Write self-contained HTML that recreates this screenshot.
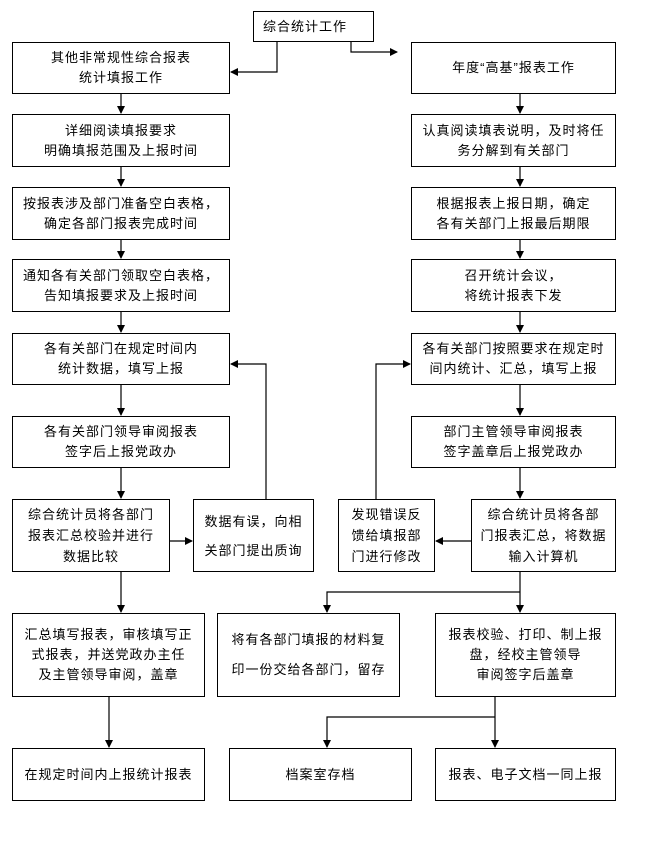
<!DOCTYPE html>
<html><head><meta charset="utf-8"><style>
html,body{margin:0;padding:0;background:#fff;}
body{width:648px;height:853px;position:relative;overflow:hidden;font-family:"Liberation Sans","Noto Sans CJK SC","WenQuanYi Zen Hei",sans-serif;font-size:13px;letter-spacing:1px;color:#000;}
.b{position:absolute;border:1px solid #000;box-sizing:border-box;display:flex;align-items:center;justify-content:center;text-align:center;line-height:20px;background:#fff;}
svg{position:absolute;left:0;top:0;}
</style></head><body>
<svg width="648" height="853" viewBox="0 0 648 853">
<defs><marker id="a" markerWidth="8" markerHeight="8" refX="7" refY="4" orient="auto" markerUnits="userSpaceOnUse"><path d="M0,0 L8,4 L0,8 z" fill="#000"/></marker></defs>
<g stroke="#000" stroke-width="1.2" fill="none">
<polyline points="277,41 277,72 231,72" marker-end="url(#a)"/>
<polyline points="351,41 351,52 397,52" marker-end="url(#a)"/>
<line x1="121" y1="93" x2="121" y2="113" marker-end="url(#a)"/>
<line x1="121" y1="166" x2="121" y2="186" marker-end="url(#a)"/>
<line x1="121" y1="239" x2="121" y2="258" marker-end="url(#a)"/>
<line x1="121" y1="311" x2="121" y2="332" marker-end="url(#a)"/>
<line x1="121" y1="384" x2="121" y2="415" marker-end="url(#a)"/>
<line x1="121" y1="467" x2="121" y2="498" marker-end="url(#a)"/>
<line x1="520" y1="93" x2="520" y2="113" marker-end="url(#a)"/>
<line x1="520" y1="166" x2="520" y2="186" marker-end="url(#a)"/>
<line x1="520" y1="239" x2="520" y2="258" marker-end="url(#a)"/>
<line x1="520" y1="311" x2="520" y2="332" marker-end="url(#a)"/>
<line x1="520" y1="384" x2="520" y2="415" marker-end="url(#a)"/>
<line x1="520" y1="467" x2="520" y2="498" marker-end="url(#a)"/>
<line x1="170" y1="541" x2="192" y2="541" marker-end="url(#a)"/>
<polyline points="266,499 266,364 231,364" marker-end="url(#a)"/>
<line x1="471" y1="541" x2="436" y2="541" marker-end="url(#a)"/>
<polyline points="376,499 376,364 410,364" marker-end="url(#a)"/>
<line x1="121" y1="571" x2="121" y2="612" marker-end="url(#a)"/>
<line x1="520" y1="571" x2="520" y2="612" marker-end="url(#a)"/>
<polyline points="520,592 327,592 327,612" marker-end="url(#a)"/>
<line x1="109" y1="696" x2="109" y2="747" marker-end="url(#a)"/>
<line x1="495" y1="696" x2="495" y2="747" marker-end="url(#a)"/>
<polyline points="495,717 327,717 327,747" marker-end="url(#a)"/>
</g></svg>
<div class="b" style="left:253px;top:11px;width:121px;height:31px;justify-content:flex-start;padding-left:9px;">综合统计工作</div>
<div class="b" style="left:12px;top:42px;width:218px;height:52px;">其他非常规性综合报表<br>统计填报工作</div>
<div class="b" style="left:411px;top:42px;width:205px;height:52px;">年度“高基”报表工作</div>
<div class="b" style="left:12px;top:114px;width:218px;height:53px;">详细阅读填报要求<br>明确填报范围及上报时间</div>
<div class="b" style="left:411px;top:114px;width:205px;height:53px;">认真阅读填表说明，及时将任<br>务分解到有关部门</div>
<div class="b" style="left:12px;top:187px;width:218px;height:53px;">按报表涉及部门准备空白表格，<br>确定各部门报表完成时间</div>
<div class="b" style="left:411px;top:187px;width:205px;height:53px;">根据报表上报日期，确定<br>各有关部门上报最后期限</div>
<div class="b" style="left:12px;top:259px;width:218px;height:53px;">通知各有关部门领取空白表格，<br>告知填报要求及上报时间</div>
<div class="b" style="left:411px;top:259px;width:205px;height:53px;">召开统计会议，<br>将统计报表下发</div>
<div class="b" style="left:12px;top:333px;width:218px;height:52px;">各有关部门在规定时间内<br>统计数据，填写上报</div>
<div class="b" style="left:411px;top:333px;width:205px;height:52px;">各有关部门按照要求在规定时<br>间内统计、汇总，填写上报</div>
<div class="b" style="left:12px;top:416px;width:218px;height:52px;">各有关部门领导审阅报表<br>签字后上报党政办</div>
<div class="b" style="left:411px;top:416px;width:205px;height:52px;">部门主管领导审阅报表<br>签字盖章后上报党政办</div>
<div class="b" style="left:12px;top:499px;width:158px;height:73px;line-height:21px;">综合统计员将各部门<br>报表汇总校验并进行<br>数据比较</div>
<div class="b" style="left:193px;top:499px;width:121px;height:73px;line-height:29px;">数据有误，向相<br>关部门提出质询</div>
<div class="b" style="left:338px;top:499px;width:97px;height:73px;line-height:21px;">发现错误反<br>馈给填报部<br>门进行修改</div>
<div class="b" style="left:471px;top:499px;width:145px;height:73px;line-height:21px;">综合统计员将各部<br>门报表汇总，将数据<br>输入计算机</div>
<div class="b" style="left:12px;top:613px;width:193px;height:84px;">汇总填写报表，审核填写正<br>式报表，并送党政办主任<br>及主管领导审阅，盖章</div>
<div class="b" style="left:217px;top:613px;width:183px;height:84px;line-height:30px;">将有各部门填报的材料复<br>印一份交给各部门，留存</div>
<div class="b" style="left:435px;top:613px;width:181px;height:84px;">报表校验、打印、制上报<br>盘，经校主管领导<br>审阅签字后盖章</div>
<div class="b" style="left:12px;top:748px;width:193px;height:53px;">在规定时间内上报统计报表</div>
<div class="b" style="left:229px;top:748px;width:183px;height:53px;">档案室存档</div>
<div class="b" style="left:435px;top:748px;width:181px;height:53px;">报表、电子文档一同上报</div>
</body></html>
